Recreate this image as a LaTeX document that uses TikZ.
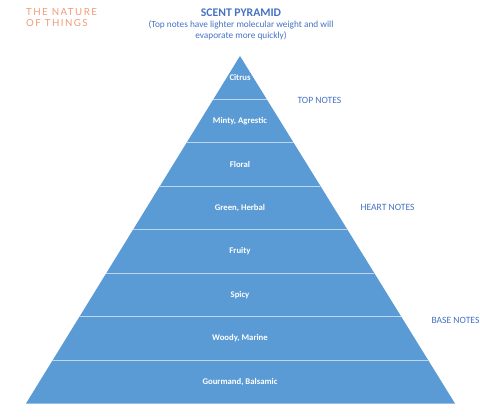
\documentclass[tikz,border=0pt]{standalone}
\usepackage{fontspec}
\setmainfont{Carlito}
\newfontfamily\logofont[LetterSpace=15]{Lato}
\definecolor{pyrblue}{HTML}{5B9BD5}
\definecolor{sepcol}{HTML}{BDD7EE}
\definecolor{titleblue}{HTML}{4472C4}
\definecolor{logocol}{HTML}{F09A78}
\begin{document}
\begin{tikzpicture}[x=1pt,y=-1pt,
  bandtext/.style={text=white,font=\fontsize{8.7}{10}\selectfont\bfseries},
  notelabel/.style={text=titleblue,font=\fontsize{9.6}{11}\selectfont,anchor=west},
  sepline/.style={draw=sepcol,line width=0.9pt}]
\useasboundingbox (0,0) rectangle (480,420);
% pyramid
\coordinate (apex) at (240,56);
\coordinate (bl) at (26,403.5);
\coordinate (br) at (455,403.5);
\fill[pyrblue] (apex) -- (br) -- (bl) -- cycle;
\foreach \i in {1,...,7}{
  \pgfmathsetmacro{\yy}{56+43.4375*\i}
  \pgfmathsetmacro{\hw}{26.8125*\i}
  \draw[sepline] ({240-\hw},\yy) -- ({240+\hw},\yy);
}
% band labels
\node[bandtext] (b1) at (240,77.5) {Citrus};
\node[bandtext] (b2) at (240,121) {Minty, Agrestic};
\node[bandtext] (b3) at (240,164.5) {Floral};
\node[bandtext] (b4) at (240,208) {Green, Herbal};
\node[bandtext] (b5) at (240,251.5) {Fruity};
\node[bandtext] (b6) at (240,295) {Spicy};
\node[bandtext] (b7) at (240,338.5) {Woody, Marine};
\node[bandtext] (b8) at (240,382) {Gourmand, Balsamic};
% side labels
\node[notelabel] (top) at (294,100) {TOP NOTES};
\node[notelabel] (heart) at (357,207.5) {HEART NOTES};
\node[notelabel] (base) at (428,320) {BASE NOTES};
% title
\node[text=titleblue,font=\fontsize{11.7}{13}\selectfont\bfseries] (title) at (241,13) {SCENT PYRAMID};
\node[text=titleblue,font=\fontsize{9.3}{11.3}\selectfont,align=center] (sub) at (241,30.5) {(Top notes have lighter molecular weight and will\\evaporate more quickly)};
% logo
\node[text=logocol,font=\fontsize{9.7}{11.2}\logofont,align=left,anchor=north west,inner sep=0pt] (logo) at (26,8) {THE NATURE\\OF THINGS};
\end{tikzpicture}
\end{document}
